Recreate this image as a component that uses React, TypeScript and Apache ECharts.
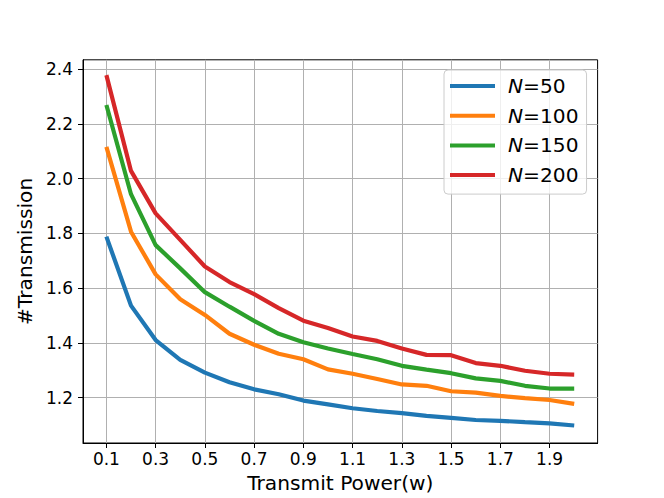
import React, { useEffect, useRef } from "react";
import * as echarts from "echarts";

const powers = [0.1, 0.2, 0.3, 0.4, 0.5, 0.6, 0.7, 0.8, 0.9, 1.0, 1.1, 1.2, 1.3, 1.4, 1.5, 1.6, 1.7, 1.8, 1.9, 2.0];
const n50 = [1.788, 1.536, 1.41, 1.338, 1.291, 1.256, 1.23, 1.212, 1.189, 1.175, 1.161, 1.151, 1.143, 1.133, 1.126, 1.118, 1.115, 1.11, 1.106, 1.098];
const n100 = [2.116, 1.806, 1.65, 1.559, 1.502, 1.433, 1.393, 1.36, 1.34, 1.303, 1.287, 1.268, 1.248, 1.243, 1.223, 1.218, 1.206, 1.198, 1.191, 1.177];
const n150 = [2.269, 1.943, 1.757, 1.672, 1.585, 1.532, 1.48, 1.433, 1.402, 1.379, 1.359, 1.34, 1.316, 1.302, 1.289, 1.27, 1.261, 1.243, 1.233, 1.233];
const n200 = [2.378, 2.028, 1.873, 1.776, 1.679, 1.622, 1.578, 1.527, 1.481, 1.454, 1.423, 1.407, 1.379, 1.356, 1.355, 1.326, 1.316, 1.298, 1.287, 1.284];
const xTicks = [0.1, 0.3, 0.5, 0.7, 0.9, 1.1, 1.3, 1.5, 1.7, 1.9];
const yTicks = [1.2, 1.4, 1.6, 1.8, 2.0, 2.2, 2.4];
const seriesNames = ["50", "100", "150", "200"];
const seriesData = [n50, n100, n150, n200];
const colors = ["#1f77b4", "#ff7f0e", "#2ca02c", "#d62728"];

const FONT = "DejaVu Sans";

export default function App() {
  const ref = useRef<HTMLDivElement>(null);
  useEffect(() => {
    if (!ref.current) return;
    const chart = echarts.init(ref.current, null, { renderer: "svg" });
    chart.setOption({
      animation: false,
      backgroundColor: "#ffffff",
      textStyle: { fontFamily: FONT },
      grid: {
        left: 83,
        right: 66.4,
        top: 59.8,
        bottom: 54.8,
        show: true,
        borderColor: "#000000",
        borderWidth: 1,
        backgroundColor: "transparent",
      },
      legend: {
        left: 444,
        top: 70,
        orient: "vertical",
        padding: [6, 8, 9, 6],
        itemWidth: 45,
        itemHeight: 4,
        itemGap: 9.7,
        icon: "rect",
        backgroundColor: "rgba(255,255,255,0.8)",
        borderColor: "#cccccc",
        borderWidth: 1,
        borderRadius: 4,
        data: seriesNames.map((n) => "N=" + n),
        formatter: (name: string) => "{i|N}{r|" + name.slice(1) + "}",
        textStyle: {
          fontFamily: FONT,
          fontSize: 20.2,
          color: "#000",
          lineHeight: 20,
          padding: [0, 0, 0, 8],
          rich: {
            i: { fontFamily: FONT, fontSize: 20.2, fontStyle: "italic", color: "#000" },
            r: { fontFamily: FONT, fontSize: 20.2, color: "#000" },
          },
        },
      },
      xAxis: {
        type: "value",
        min: 0.005,
        max: 2.095,
        name: "Transmit Power(w)",
        nameLocation: "middle",
        nameGap: 30,
        nameTextStyle: { fontFamily: FONT, fontSize: 20.2, color: "#000" },
        axisLine: { show: true, lineStyle: { color: "#000", width: 1 } },
        axisTick: { show: true, length: 5, customValues: xTicks, lineStyle: { color: "#000", width: 1 } },
        axisLabel: {
          customValues: xTicks,
          margin: 7,
          fontFamily: FONT,
          fontSize: 17,
          color: "#000",
          formatter: (v: number) => v.toFixed(1),
        },
        splitLine: { show: true, lineStyle: { color: "#b0b0b0", width: 1 } },
      },
      yAxis: {
        type: "value",
        min: 1.034,
        max: 2.434,
        name: "#Transmission",
        nameLocation: "middle",
        nameGap: 44,
        nameTextStyle: { fontFamily: FONT, fontSize: 20.2, color: "#000" },
        axisLine: { show: true, lineStyle: { color: "#000", width: 1 } },
        axisTick: { show: true, length: 5, customValues: yTicks, lineStyle: { color: "#000", width: 1 } },
        axisLabel: {
          customValues: yTicks,
          margin: 10,
          fontFamily: FONT,
          fontSize: 17,
          color: "#000",
          formatter: (v: number) => v.toFixed(1),
        },
        splitLine: { show: true, lineStyle: { color: "#b0b0b0", width: 1 } },
      },
      series: seriesNames.map((n, i) => ({
        name: "N=" + n,
        type: "line",
        data: powers.map((p, j) => [p, seriesData[i][j]]),
        showSymbol: false,
        symbol: "none",
        color: colors[i],
        lineStyle: { color: colors[i], width: 4.2 },
        z: 3 + i,
      })),
    });
    return () => chart.dispose();
  }, []);
  return <div ref={ref} style={{ width: 664, height: 498, position: "absolute", left: 0, top: 0 }} />;
}
